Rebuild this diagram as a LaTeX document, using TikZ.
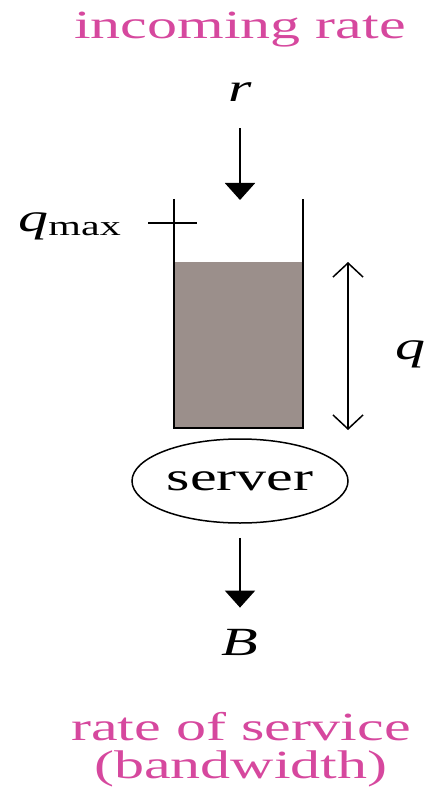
\documentclass[tikz,border=0pt]{standalone}
\usepackage{fontspec}
\setmainfont{Liberation Serif}
\usetikzlibrary{arrows.meta,shapes.geometric}
\definecolor{labelpink}{RGB}{214,72,158}
\definecolor{queuefill}{RGB}{155,143,139}
% text in the reference is set wide
\newcommand{\wide}[1]{\scalebox{1.5}[1]{#1}}

\begin{document}
\begin{tikzpicture}[x=1pt, y=-1pt,
    big/.style={font=\fontsize{40}{38}\selectfont, inner sep=0pt},
    title/.style={big, text=labelpink, align=center},
    flow/.style={line width=2pt, -{Triangle[width=30pt,length=17pt]}},
    wall/.style={line width=2.5pt},
    level/.style={line width=1.5pt, {Straight Barb[width=30pt,length=14pt]}-{Straight Barb[width=30pt,length=14pt]}}]
  \useasboundingbox (0,0) rectangle (428,794);
  % Labels
  \node[title, anchor=base] (incoming) at (240,39) {\wide{incoming rate}};
  \node[big, anchor=base] (r) at (240,102) {\wide{\itshape r}};
  \node[big, anchor=base] (B) at (240,655) {\wide{\itshape B}};
  \node[title, anchor=base] (service) at (241,778)
    {\wide{rate of service}\\\wide{(bandwidth)}};
  % Queue
  \coordinate (inlet) at (240,200);
  \fill[queuefill] (174,262) rectangle (303,428);
  \draw[wall] (174,199) -- (174,428) -- (303,428) -- (303,199);
  % Threshold mark
  \coordinate (tickl) at (148,223);
  \coordinate (tickr) at (197,223);
  \draw[line width=1.5pt] (tickl) -- (tickr);
  \node[big, anchor=base] (qmax) at (70,231) {\wide{\itshape q\textsubscript{\upshape max}}};
  % Queue length
  \coordinate (qtop) at (348,262);
  \coordinate (qbot) at (348,430);
  \draw[level] (qtop) -- (qbot);
  \node[big, anchor=base] (q) at (410,359) {\wide{\itshape q}};
  % Server
  \node[draw, ellipse, line width=1.5pt, minimum width=216pt, minimum height=84pt,
        inner sep=0pt, big] (server) at (240,481) {\wide{server}};
  % Arrows
  \draw[flow, shorten <=26pt] (r) -- (inlet);
  \draw[flow, shorten <=14pt, shorten >=21pt] (server) -- (B);
\end{tikzpicture}
\end{document}
